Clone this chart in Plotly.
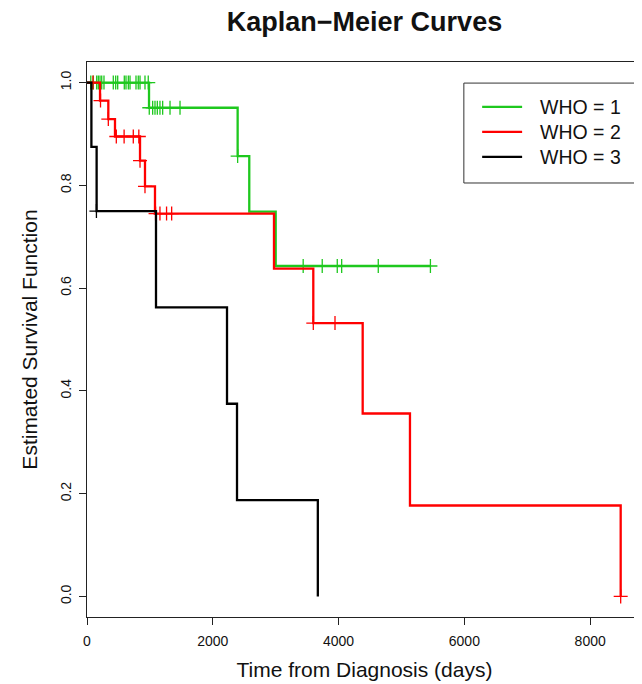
import plotly.graph_objects as go

# ---- data (Kaplan-Meier step points) ----
groups = ["WHO = 1", "WHO = 2", "WHO = 3"]

green_t = [0, 986, 2395, 2580, 3000, 5460]
green_s = [1.0, 0.951, 0.857, 0.749, 0.643, 0.643]
green_cens_t = [60, 100, 154, 180, 207, 234, 270, 418, 456, 488, 593, 620, 657, 684, 779, 815, 843, 922, 974,
                990, 1044, 1081, 1118, 1160, 1203, 1320, 1479,
                2395,
                3437, 3740, 3979, 4049, 4631, 5460]
green_cens_s = [1.0] * 19 + [0.951] * 8 + [0.857] + [0.643] * 6

red_t = [0, 207, 339, 445, 843, 922, 1081, 2973, 3598, 4383, 5135, 8485]
red_s = [1.0, 0.965, 0.929, 0.895, 0.848, 0.798, 0.745, 0.638, 0.532, 0.356, 0.177, 0.0]
red_cens_t = [95, 215, 339, 466, 590, 736, 824, 843, 922, 1090, 1160, 1265, 1346, 3598, 3943, 8485]
red_cens_s = [1.0, 0.965, 0.929, 0.895, 0.895, 0.895, 0.895, 0.848, 0.798, 0.745, 0.745, 0.745, 0.745,
              0.532, 0.532, 0.0]

black_t = [0, 70, 153, 1097, 2226, 2385, 3670]
black_s = [1.0, 0.875, 0.75, 0.5625, 0.375, 0.1875, 0.0]
black_cens_t = [150]
black_cens_s = [0.75]

x_ticks = [0, 2000, 4000, 6000, 8000]
y_ticks = [0.0, 0.2, 0.4, 0.6, 0.8, 1.0]
y_ticktext = ["0.0", "0.2", "0.4", "0.6", "0.8", "1.0"]

colors = ["#1ec81e", "#ff0000", "#000000"]
FONT = "Liberation Sans, Arial, sans-serif"

series = [
    (green_t, green_s, green_cens_t, green_cens_s),
    (red_t, red_s, red_cens_t, red_cens_s),
    (black_t, black_s, black_cens_t, black_cens_s),
]

fig = go.Figure()
for name, col, (t, s, ct, cs) in zip(groups, colors, series):
    fig.add_trace(go.Scatter(x=t, y=s, mode="lines", line=dict(color=col, width=2.3, shape="hv"),
                             name=name, showlegend=False, hoverinfo="x+y"))
    fig.add_trace(go.Scatter(x=ct, y=cs, mode="markers",
                             marker=dict(symbol="cross-thin", size=10, line=dict(color=col, width=1.3)),
                             name=name + " censored", showlegend=False))

# ---- manual legend (box, line samples, labels) ----
L = dict(x0=0.679, x1=0.992, y0=0.782, y1=0.962)
shapes = [dict(type="rect", xref="paper", yref="paper", line=dict(color="#333333", width=1),
               fillcolor="rgba(0,0,0,0)", **L)]
annotations = []
row_y = [0.919, 0.874, 0.829]
for name, col, ry in zip(groups, colors, row_y):
    shapes.append(dict(type="line", xref="paper", yref="paper", x0=0.712, x1=0.784, y0=ry, y1=ry,
                       line=dict(color=col, width=2.3)))
    annotations.append(dict(xref="paper", yref="paper", x=0.812, y=ry, text=name, showarrow=False,
                            xanchor="left", yanchor="middle", font=dict(size=19.5, color="#111111", family=FONT)))

# page body has an 8px margin: figure is 634x676 placed at (8,8)
fig.update_layout(
    width=634, height=676,
    margin=dict(l=79, r=0, t=54, b=67),
    paper_bgcolor="white", plot_bgcolor="white",
    font=dict(family=FONT, color="#111111"),
    title=dict(text="Kaplan\u2212Meier Curves", x=0.5623, xanchor="center", y=0.9793, yanchor="middle",
               font=dict(size=27, family=FONT, color="#111111", weight="bold")),
    shapes=shapes, annotations=annotations,
    showlegend=False,
)
fig.update_xaxes(range=[0, 8824], tickvals=x_ticks, ticks="outside", ticklen=7, tickcolor="#222222",
                 showline=True, linecolor="#222222", linewidth=1, mirror=True, showgrid=False, zeroline=False,
                 ticklabelstandoff=4,
                 tickfont=dict(size=14, family=FONT, color="#111111"),
                 title=dict(text="Time from Diagnosis (days)", font=dict(size=21, family=FONT, color="#111111"),
                            standoff=14))
fig.update_yaxes(range=[-0.04, 1.04], tickvals=y_ticks, ticktext=y_ticktext, ticks="outside", ticklen=7,
                 tickcolor="#222222", tickangle=-90, ticklabelstandoff=2,
                 showline=True, linecolor="#222222", linewidth=1, mirror=False, showgrid=False, zeroline=False,
                 tickfont=dict(size=14, family=FONT, color="#111111"),
                 title=dict(text="Estimated Survival Function", font=dict(size=21, family=FONT, color="#111111"),
                            standoff=15))

fig.write_html("out.html")
